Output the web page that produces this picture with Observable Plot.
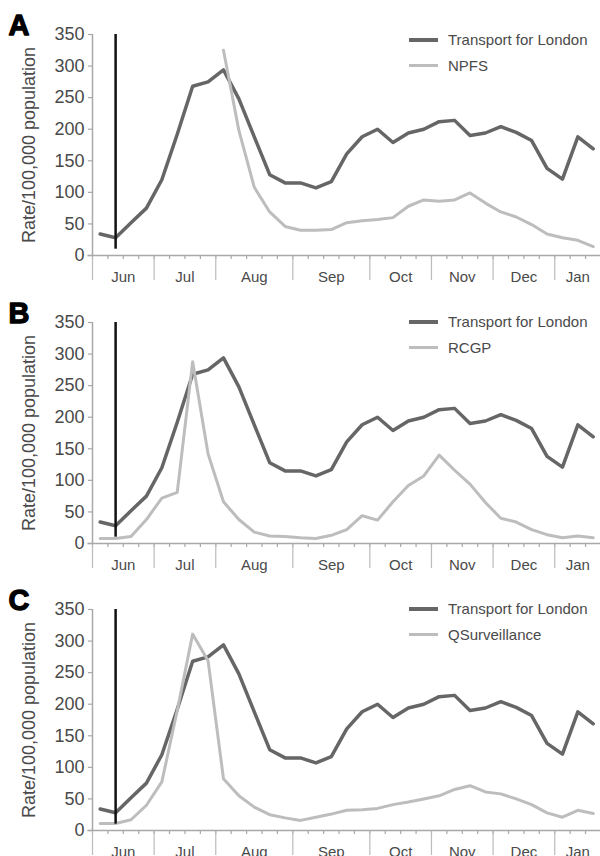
<!DOCTYPE html>
<html>
<head>
<meta charset="utf-8">
<script src="https://cdn.jsdelivr.net/npm/d3@7"></script>
<script src="https://cdn.jsdelivr.net/npm/@observablehq/plot@0.6"></script>
<style>
  html, body { margin: 0; padding: 0; background: #fff; }
  #wrap { position: relative; width: 600px; height: 856px; overflow: hidden; font-family: "Liberation Sans", Arial, sans-serif; }
  .panel { position: absolute; left: 0; width: 600px; }
</style>
</head>
<body>
<div id="wrap"></div>
<script>
// ---- data ----
const months = ["Jun", "Jul", "Aug", "Sep", "Oct", "Nov", "Dec", "Jan"];
const monthWeeks = [4, 4, 5, 5, 4, 4, 4, 3];
const tfl = [34, 28, 52, 75, 120, 192, 268, 275, 294, 248, 188, 128, 115, 115, 107, 117, 161, 188, 200, 179, 194, 200, 212, 214, 190, 194, 204, 195, 182, 138, 121, 188, 169];
const npfs = [null, null, null, null, null, null, null, null, 325, 198, 108, 69, 46, 40, 40, 41, 52, 55, 57, 60, 78, 88, 86, 88, 99, 83, 69, 61, 49, 34, 28, 24, 14];
const rcgp = [8, 8, 11, 38, 72, 81, 288, 142, 66, 38, 18, 12, 11, 9, 8, 13, 22, 44, 37, 66, 92, 107, 140, 116, 94, 65, 40, 34, 22, 14, 9, 12, 9];
const qsurv = [11, 11, 17, 40, 77, 190, 311, 269, 82, 55, 37, 25, 20, 16, 21, 26, 32, 33, 35, 41, 45, 50, 55, 65, 71, 61, 58, 50, 41, 28, 21, 32, 27];
const markerWeek = [1];          // week index of the vertical event line
const markerRange = [10, 350];   // y extent of the event line
const yTicks = [0, 50, 100, 150, 200, 250, 300, 350];
const panels = [
  {letter: "A", name: "NPFS", values: npfs},
  {letter: "B", name: "RCGP", values: rcgp},
  {letter: "C", name: "QSurveillance", values: qsurv}
];
const tflName = "Transport for London";

// ---- derived ----
const nWeeks = tfl.length;
const weekBounds = d3.range(0, nWeeks + 1);
const monthBounds = [0];
monthWeeks.forEach(w => monthBounds.push(monthBounds[monthBounds.length - 1] + w));
const monthCenters = months.map((m, i) => (monthBounds[i] + monthBounds[i + 1]) / 2);
const monthByCenter = new Map(monthCenters.map((c, i) => [c, months[i]]));

const FONT = "Liberation Sans, Arial, sans-serif";
const DARK = "#666666", LIGHT = "#bdbdbd", AXIS = "#a8a8a8", TEXT = "#4a4a4a";
const tops = [0, 288, 575];
const legendTops = [40, 34, 34];

const wrap = document.getElementById("wrap");

panels.forEach((p, k) => {
  const data = tfl.map((v, i) => ({week: i + 0.5, tfl: v, other: p.values[i]}));
  const marker = markerWeek.map(w => ({week: w + 0.5, lo: markerRange[0], hi: markerRange[1]}));
  const svg = Plot.plot({
    width: 600,
    height: 287,
    marginLeft: 92,
    marginRight: 0,
    marginTop: 34,
    marginBottom: 32,
    x: {domain: [0, 32.97], axis: null},
    y: {domain: [0, 350], axis: null},
    style: {fontFamily: FONT, background: "transparent", overflow: "visible"},
    marks: [
      Plot.axisX({ticks: weekBounds, tickSize: 4, tickFormat: () => "", label: null, stroke: AXIS, strokeWidth: 1.2}),
      Plot.axisX({ticks: monthBounds, tickSize: 25, tickFormat: () => "", label: null, stroke: "#bbbbbb", strokeWidth: 1.2}),
      Plot.axisX({ticks: monthCenters, tickSize: 0, tickPadding: 16, tickFormat: d => monthByCenter.get(d), label: null, fontSize: 15, fill: TEXT}),
      Plot.axisY({ticks: yTicks, tickSize: 4, tickPadding: 4, fontSize: 18, fill: TEXT, stroke: AXIS, strokeWidth: 1.2, label: null}),
      Plot.ruleX([0], {y1: 0, y2: 350, stroke: AXIS, strokeWidth: 1.5}),
      Plot.ruleY([0], {x1: -0.3, x2: nWeeks, stroke: AXIS, strokeWidth: 1.5}),
      Plot.text([p.letter], {frameAnchor: "top-left", dx: -84, dy: -20, lineAnchor: "top", textAnchor: "start", fontSize: 29, fontWeight: "bold", fill: "#000", stroke: "#000", strokeWidth: 1.3}),
      Plot.text(["Rate/100,000 population"], {frameAnchor: "left", dx: -63, rotate: -90, textAnchor: "middle", lineAnchor: "middle", fontSize: 18, fill: TEXT}),
      Plot.lineY(data, {x: "week", y: "tfl", stroke: DARK, strokeWidth: 3.5, strokeLinejoin: "round"}),
      Plot.lineY(data.filter(d => d.other != null), {x: "week", y: "other", stroke: LIGHT, strokeWidth: 3, strokeLinejoin: "round"}),
      Plot.ruleX(marker, {x: "week", y1: "lo", y2: "hi", stroke: "#111", strokeWidth: 2.5})
    ]
  });
  // legend
  const g = d3.select(svg).append("g").attr("font-family", FONT).attr("font-size", 15).attr("fill", TEXT).attr("text-anchor", "start");
  [[tflName, DARK, 4], [p.name, LIGHT, 3]].forEach(([label, color, sw], j) => {
    const y = legendTops[k] + j * 25.5;
    g.append("line").attr("x1", 409).attr("x2", 438).attr("y1", y).attr("y2", y).attr("stroke", color).attr("stroke-width", sw);
    g.append("text").attr("x", 448).attr("y", y).attr("dy", "0.35em").attr("text-anchor", "start").text(label);
  });
  svg.classList.add("panel");
  svg.style.top = tops[k] + "px";
  wrap.appendChild(svg);
});
</script>
</body>
</html>
